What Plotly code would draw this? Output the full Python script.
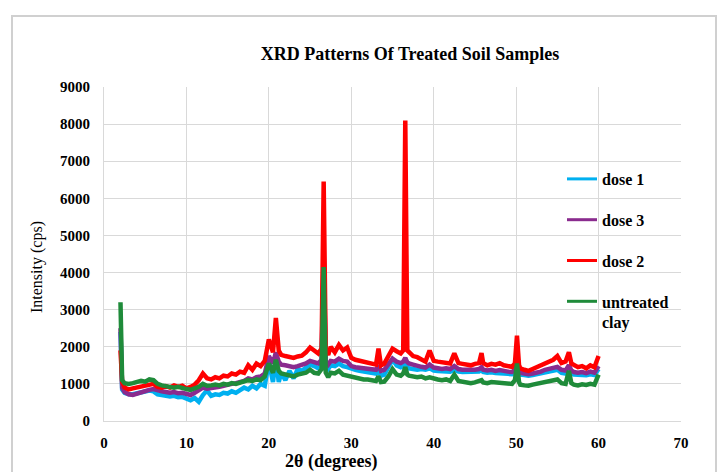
import plotly.graph_objects as go

two_theta = [
    2.0, 2.2, 2.5,
    3.0, 3.5, 4.0, 4.5, 5.0, 5.5, 6.0, 6.5, 7.0, 7.5, 8.0, 8.5, 9.0, 9.5, 10.0, 10.5,
    11.0, 11.5, 12.0, 12.5, 13.0, 13.5, 14.0, 14.5, 15.0, 15.5, 16.0, 16.5, 17.0, 17.5,
    18.0, 18.5, 19.0, 19.5, 20.0, 20.5,
    20.85, 21.2,
    21.5, 22.0, 22.5, 23.0, 23.5, 24.0, 24.5, 25.0, 25.5, 26.0,
    26.4, 26.65, 26.9, 27.2,
    27.5, 28.0, 28.5, 29.0, 29.5, 30.0, 30.5, 31.0, 31.5, 32.0, 32.5, 33.0,
    33.3, 33.6,
    34.0, 34.5, 35.0, 35.5, 36.0,
    36.3, 36.55, 36.8,
    37.0, 37.5, 38.0, 38.5, 39.0, 39.5, 40.0, 40.5, 41.0, 41.5, 42.0, 42.5, 43.0, 43.5,
    44.0, 44.5, 45.0, 45.5,
    45.8,
    46.0, 46.5, 47.0, 47.5, 48.0, 48.5, 49.0, 49.5,
    49.85, 50.1, 50.35,
    50.5, 51.0, 51.5, 52.0, 52.5, 53.0, 53.5, 54.0, 54.5, 55.0, 55.5, 56.0,
    56.4, 56.7,
    57.0, 57.5, 58.0, 58.5, 59.0, 59.5, 60.0,
]

dose1 = [
    2400, 850, 760,
    720, 720, 750, 780, 800, 820, 800, 720, 700, 680, 660, 680, 640, 650, 600, 560,
    620, 520, 700, 820, 680, 720, 700, 760, 740, 800, 760, 820, 900, 850,
    950, 880, 1000, 950, 1600, 1050,
    1700, 1050,
    1300, 1100, 1350, 1150, 1400, 1350, 1450, 1520, 1480, 1420,
    1500, 4450, 1450, 1400,
    1500, 1480, 1550, 1480, 1450, 1400, 1380, 1350, 1340, 1320, 1300, 1280,
    1350, 1220,
    1250, 1450, 1650, 1500, 1450,
    1480, 1550, 1450,
    1420, 1400, 1380, 1400, 1380, 1420, 1360, 1350, 1340, 1360, 1330, 1380, 1330, 1320,
    1320, 1300, 1320, 1330,
    1380,
    1320, 1300, 1310, 1290, 1300, 1280, 1270, 1260,
    1300, 1600, 1280,
    1250, 1240, 1220, 1240, 1260, 1280, 1320, 1340, 1360, 1380, 1300, 1280,
    1400, 1280,
    1250, 1240, 1250, 1230, 1260, 1240, 1400,
]

dose3 = [
    2500, 900, 780,
    720, 700, 740, 780, 800, 840, 860, 820, 800, 780, 760, 780, 750, 760, 720, 700,
    760, 820, 900, 870, 880, 900, 920, 950, 960, 1000, 1020, 1050, 1080, 1150,
    1120, 1180, 1200, 1280, 1750, 1550,
    1850, 1600,
    1520, 1500, 1480, 1450, 1480, 1500, 1550, 1620, 1580, 1550,
    1650, 4600, 1600, 1520,
    1620, 1600, 1680, 1620, 1600, 1480, 1450, 1440, 1420, 1400, 1400, 1380,
    1500, 1350,
    1380, 1520, 1680, 1600, 1560,
    1600, 1700, 1580,
    1550, 1520, 1480, 1460, 1440, 1520, 1440, 1420, 1400, 1420, 1400, 1480, 1400, 1380,
    1380, 1360, 1380, 1400,
    1450,
    1380, 1360, 1380, 1350, 1370, 1340, 1330, 1320,
    1380, 1780, 1360,
    1300, 1280, 1260, 1280, 1300, 1330, 1380, 1400, 1420, 1460, 1380, 1360,
    1500, 1360,
    1320, 1300, 1320, 1290, 1330, 1300, 1480,
]

dose2 = [
    1900, 1050, 900,
    850, 880, 900, 930, 960, 980, 1000, 920, 900, 940, 900, 960, 920, 950, 880, 920,
    980, 1100, 1280, 1150, 1120, 1180, 1150, 1220, 1200, 1280, 1250, 1330, 1300, 1500,
    1380, 1550, 1480, 1620, 2200, 1850,
    2780, 1900,
    1780, 1750, 1720, 1700, 1740, 1760, 1850, 1980, 1900, 1820,
    1950, 6450, 1900, 1780,
    2000, 1850, 2050, 1900, 1980, 1700, 1650, 1620, 1600, 1580, 1560, 1520,
    1950, 1500,
    1550, 1750, 1950, 1880, 1820,
    1900, 8100, 1900,
    1850, 1750, 1720, 1650, 1600, 1900, 1620, 1600, 1580, 1560, 1550, 1820, 1560, 1540,
    1520, 1500, 1540, 1560,
    1830,
    1560, 1500, 1540, 1520, 1560, 1500, 1480, 1460,
    1550, 2300, 1500,
    1420, 1380, 1350, 1400, 1450, 1500, 1560, 1600, 1650, 1750, 1560, 1600,
    1850, 1550,
    1500, 1450, 1480, 1420, 1500, 1450, 1750,
]

untreated = [
    3200, 1100, 1020,
    1000, 1020, 1050, 1080, 1060, 1120, 1100, 1000, 960, 940, 920, 900, 920, 880, 860, 840,
    880, 920, 1000, 950, 960, 980, 960, 1000, 980, 1020, 1000, 1040, 1060, 1100,
    1080, 1120, 1100, 1200, 1550, 1300,
    1650, 1350,
    1280, 1250, 1220, 1200, 1250, 1280, 1300, 1380, 1300, 1280,
    1400, 4150, 1300, 1180,
    1300, 1280, 1350, 1250, 1220, 1180, 1150, 1140, 1120, 1120, 1100, 1080,
    1200, 1050,
    1060, 1200, 1400, 1250, 1220,
    1280, 1450, 1250,
    1220, 1200, 1180, 1200, 1150, 1180, 1140, 1120, 1100, 1120, 1080, 1250, 1080, 1060,
    1040, 1020, 1040, 1060,
    1100,
    1040, 1020, 1050, 1040, 1060, 1020, 1010, 1000,
    1100, 1550, 1050,
    980, 960, 950, 980, 1000, 1020, 1060, 1080, 1100, 1120, 1020, 1000,
    1350, 1020,
    980, 960, 990, 970, 1000, 980, 1250,
]

series_names = ["dose 1", "dose 3", "dose 2", "untreated<br>clay"]
series_values = [dose1, dose3, dose2, untreated]
series_colors = ["#00b0f0", "#8a2b8e", "#ff0000", "#1f8b3a"]

x_ticks = [0, 10, 20, 30, 40, 50, 60, 70]
y_ticks = [0, 1000, 2000, 3000, 4000, 5000, 6000, 7000, 8000, 9000]

SERIF = "Times New Roman"

fig = go.Figure()
# data traces (thick, as in the reference)
for name, vals, col in zip(series_names, series_values, series_colors):
    fig.add_trace(go.Scatter(
        x=two_theta, y=vals, mode="lines", name=name, showlegend=False,
        line=dict(color=col, width=4.5),
    ))
# legend-only entries with thinner sample lines
for name, col in zip(series_names, series_colors):
    fig.add_trace(go.Scatter(
        x=[None], y=[None], mode="lines", name=name, legendgroup=name,
        line=dict(color=col, width=3),
    ))

fig.update_layout(
    width=726, height=472,
    margin=dict(l=104, r=45, t=87, b=51),
    paper_bgcolor="white", plot_bgcolor="white",
    font=dict(family=SERIF, color="black"),
    showlegend=True,
    legend=dict(
        x=(562 - 104) / 577, y=(421 - 162) / 334, xanchor="left", yanchor="top",
        bgcolor="rgba(0,0,0,0)",
        font=dict(family=SERIF, size=16, color="black", weight=700),
        tracegroupgap=17, valign="top",
    ),
    title=dict(
        text="<b>XRD Patterns Of Treated Soil Samples</b>",
        x=(410 - 104) / 577, xref="paper", xanchor="center",
        y=1 - 54 / 472, yref="container", yanchor="middle",
        font=dict(family=SERIF, size=18, color="black"),
    ),
    xaxis=dict(
        range=[0, 70], tickvals=x_ticks, showgrid=True, gridcolor="#d9d9d9", gridwidth=1,
        zeroline=False, showline=True, linecolor="#d9d9d9",
        tickfont=dict(family=SERIF, size=15, color="black", weight=700),
        ticklabelstandoff=8,
    ),
    yaxis=dict(
        range=[0, 9000], tickvals=y_ticks, showgrid=True, gridcolor="#d9d9d9", gridwidth=1,
        zeroline=False, showline=True, linecolor="#d9d9d9",
        tickfont=dict(family=SERIF, size=15, color="black", weight=700),
        ticklabelstandoff=10,
    ),
    annotations=[
        dict(text="<b>2θ (degrees)</b>", xref="paper", yref="paper",
             x=(331 - 104) / 577, y=0, yshift=-28, xanchor="center", yanchor="top",
             showarrow=False,
             font=dict(family=SERIF, size=18, color="black")),
        dict(text="Intensity (cps)", xref="paper", yref="paper",
             x=(37 - 104) / 577, y=(421 - 267) / 334, xanchor="center", yanchor="middle",
             textangle=-90, showarrow=False,
             font=dict(family=SERIF, size=16, color="black")),
    ],
    shapes=[
        dict(type="rect", xref="paper", yref="paper",
             x0=(12 - 104) / 577, x1=(716 - 104) / 577,
             y0=-0.6, y1=(421 - 16) / 334,
             line=dict(color="#d0d0d0", width=2), fillcolor="rgba(0,0,0,0)", layer="below"),
    ],
)

fig.write_html("out.html")
